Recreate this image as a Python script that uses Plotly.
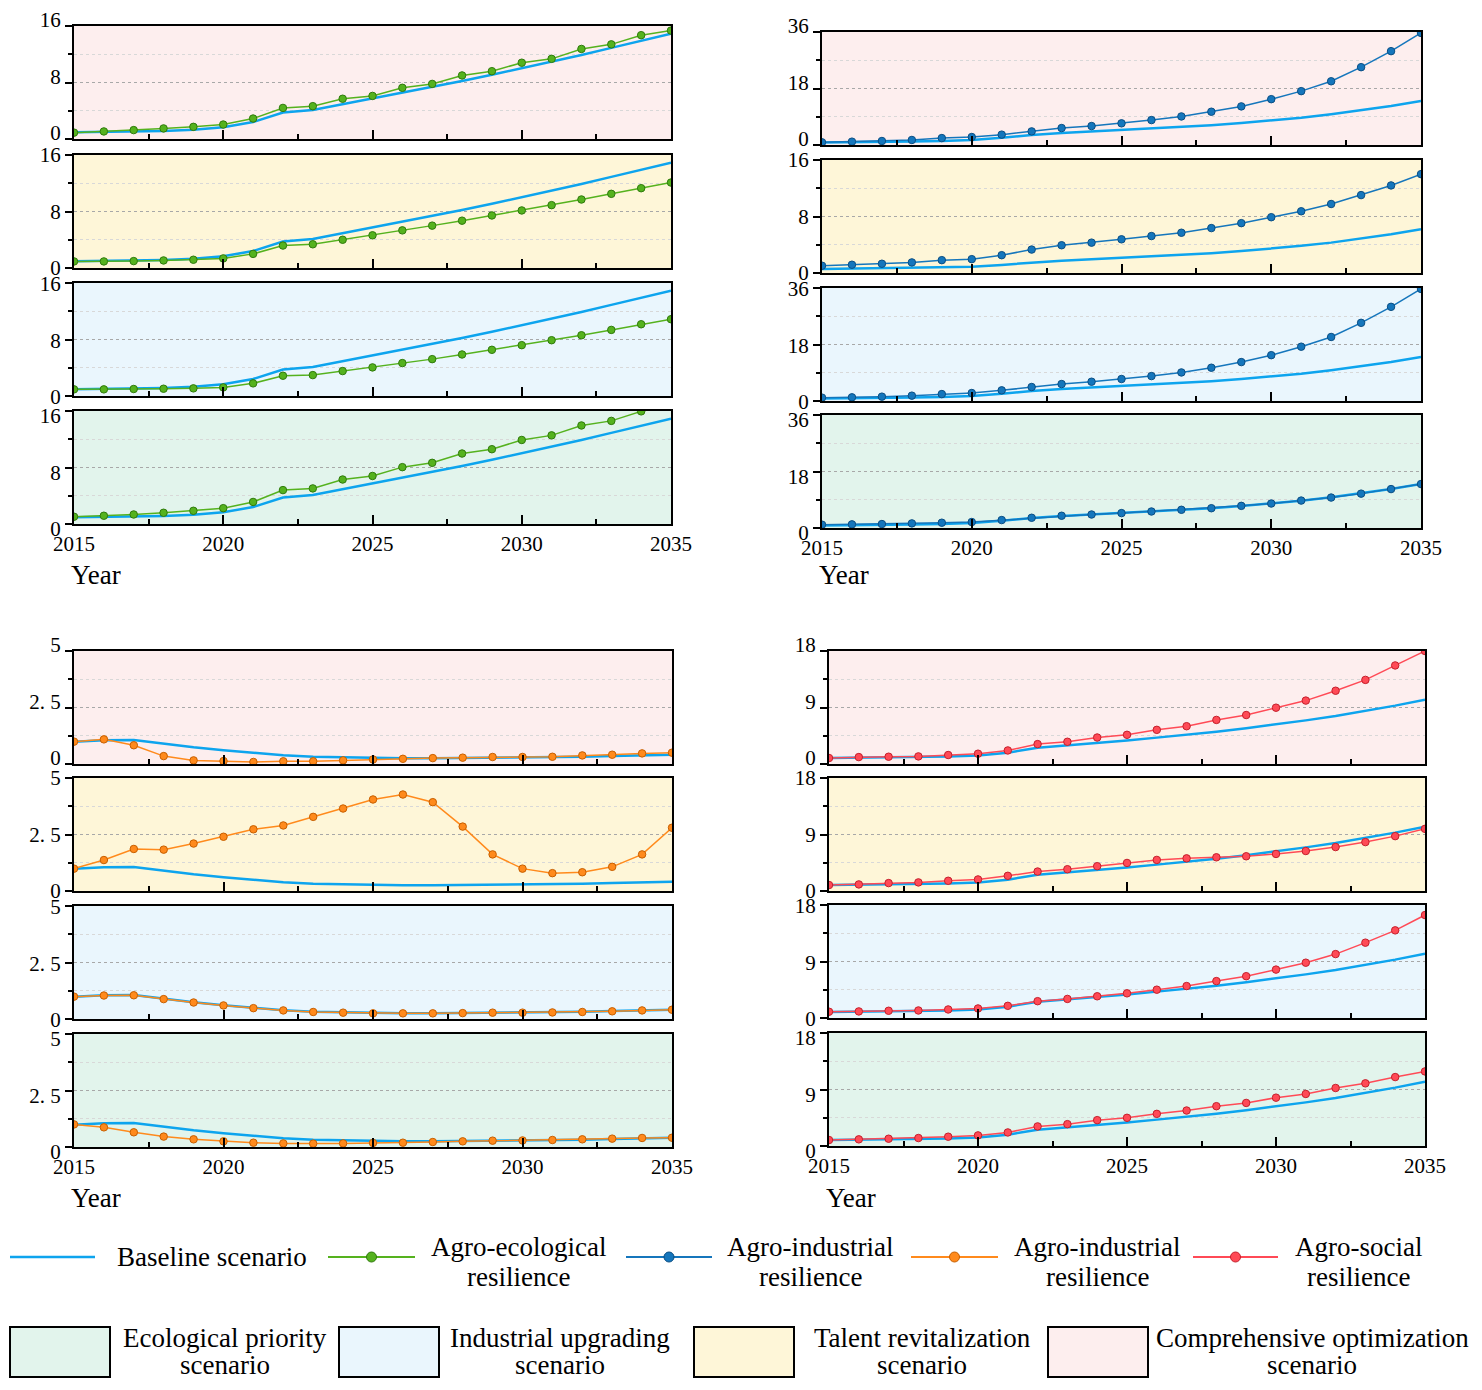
import plotly.graph_objects as go

W, H = 1482, 1390
OFF = 8  # page body margin around the figure
FIG_W, FIG_H = W - 2 * OFF, H - 2 * OFF
SERIF = "Liberation Serif"

years = list(range(2015, 2036))

# ---- agro-ecological resilience (top left) ----
baseline_eco = [0.95, 1.0, 1.05, 1.15, 1.3, 1.65, 2.4, 3.75, 4.1, 4.9, 5.7,
                6.5, 7.35, 8.2, 9.1, 10.0, 10.9, 11.9, 12.9, 13.9, 14.9]
eco_comp = [0.9, 1.07, 1.26, 1.5, 1.72, 2.05, 2.9, 4.4, 4.65, 5.7, 6.1,
            7.25, 7.8, 9.0, 9.6, 10.8, 11.35, 12.75, 13.4, 14.7, 15.35]
eco_talent = [0.93, 0.93, 0.98, 1.07, 1.17, 1.36, 2.0, 3.18, 3.36, 4.0, 4.63,
              5.33, 6.0, 6.7, 7.44, 8.15, 8.9, 9.7, 10.5, 11.3, 12.1]
eco_indus = [0.94, 0.94, 0.99, 1.03, 1.08, 1.22, 1.79, 2.87, 2.96, 3.53, 4.05,
             4.66, 5.22, 5.88, 6.54, 7.2, 7.9, 8.6, 9.36, 10.16, 10.87]
eco_ecol = [1.03, 1.17, 1.35, 1.59, 1.87, 2.24, 3.12, 4.8, 5.04, 6.3, 6.8,
            8.05, 8.66, 9.98, 10.59, 11.9, 12.55, 13.95, 14.6, 15.95, 17.0]

# ---- agro-industrial resilience (top right) ----
baseline_ind = [0.8, 0.85, 0.95, 1.1, 1.3, 1.6, 2.3, 3.2, 3.8, 4.3, 4.8,
                5.2, 5.7, 6.3, 7.0, 7.8, 8.7, 9.8, 11.0, 12.4, 14.0]
baseline_ind_talent = [0.55, 0.6, 0.65, 0.72, 0.8, 0.88, 1.15, 1.5, 1.75, 1.95, 2.15,
                       2.35, 2.55, 2.8, 3.1, 3.45, 3.85, 4.3, 4.85, 5.5, 6.2]
ind_comp = [0.85, 1.06, 1.27, 1.6, 2.2, 2.54, 3.3, 4.34, 5.4, 6.04, 6.9,
            7.94, 9.1, 10.6, 12.3, 14.6, 17.16, 20.3, 24.8, 29.9, 35.7]
ind_talent = [1.03, 1.17, 1.31, 1.5, 1.82, 1.96, 2.52, 3.32, 3.93, 4.3, 4.77,
              5.23, 5.7, 6.36, 7.06, 7.9, 8.74, 9.77, 11.03, 12.4, 14.0]
ind_indus = [1.06, 1.17, 1.38, 1.7, 2.2, 2.54, 3.4, 4.45, 5.4, 6.14, 7.0,
             7.94, 9.1, 10.6, 12.4, 14.6, 17.3, 20.4, 24.9, 30.0, 35.7]
ind_ecol = [1.05, 1.16, 1.26, 1.47, 1.68, 1.9, 2.53, 3.26, 3.9, 4.3, 4.74,
            5.26, 5.8, 6.3, 7.05, 7.8, 8.74, 9.7, 10.95, 12.4, 14.0]

# ---- second agro-industrial series (bottom left) ----
baseline_cul = [0.99, 1.05, 1.06, 0.89, 0.74, 0.61, 0.5, 0.39, 0.32, 0.29, 0.26,
                0.25, 0.25, 0.26, 0.28, 0.28, 0.29, 0.32, 0.35, 0.38, 0.41]
cul_comp = [0.99, 1.09, 0.83, 0.35, 0.16, 0.13, 0.09, 0.12, 0.12, 0.16, 0.2,
            0.23, 0.26, 0.28, 0.31, 0.31, 0.32, 0.38, 0.41, 0.47, 0.5]
cul_talent = [0.99, 1.37, 1.86, 1.83, 2.1, 2.4, 2.73, 2.9, 3.28, 3.65, 4.05,
              4.27, 3.93, 2.85, 1.62, 0.99, 0.79, 0.83, 1.07, 1.62, 2.8]
cul_indus = [0.99, 1.04, 1.05, 0.88, 0.73, 0.6, 0.48, 0.38, 0.31, 0.28, 0.25,
             0.25, 0.25, 0.26, 0.28, 0.28, 0.29, 0.31, 0.34, 0.38, 0.41]
cul_ecol = [1.0, 0.87, 0.65, 0.46, 0.34, 0.25, 0.19, 0.16, 0.15, 0.16, 0.18,
            0.19, 0.22, 0.25, 0.28, 0.29, 0.31, 0.34, 0.37, 0.4, 0.41]

# ---- agro-social resilience (bottom right) ----
baseline_soc = [0.95, 1.0, 1.05, 1.1, 1.2, 1.35, 1.8, 2.6, 2.95, 3.35, 3.75,
                4.2, 4.65, 5.15, 5.7, 6.3, 6.95, 7.65, 8.45, 9.3, 10.25]
soc_comp = [0.95, 1.1, 1.16, 1.21, 1.43, 1.64, 2.16, 3.17, 3.54, 4.22, 4.65,
            5.44, 6.02, 7.02, 7.8, 8.97, 10.1, 11.67, 13.4, 15.7, 18.0]
soc_talent = [0.95, 1.05, 1.26, 1.37, 1.63, 1.84, 2.42, 3.1, 3.47, 3.95, 4.47,
              4.95, 5.2, 5.37, 5.53, 5.9, 6.37, 7.0, 7.79, 8.74, 9.9]
soc_indus = [1.0, 1.05, 1.15, 1.2, 1.36, 1.52, 1.94, 2.68, 3.04, 3.46, 3.93,
             4.51, 5.09, 5.88, 6.66, 7.71, 8.81, 10.18, 12.0, 13.96, 16.4]
soc_ecol = [0.95, 1.06, 1.16, 1.27, 1.48, 1.69, 2.16, 3.12, 3.48, 4.12, 4.49,
            5.12, 5.65, 6.34, 6.86, 7.7, 8.29, 9.24, 9.98, 10.98, 11.88]

x_ticks = [2015, 2020, 2025, 2030, 2035]
x_minor = [2017.5, 2022.5, 2027.5, 2032.5]

# top to bottom inside each block
bg_colors = ["#FDEEEE", "#FEF6D8", "#EAF6FD", "#E2F4EC"]
label_shift = [-6, 0, 1, 5]  # y tick labels drift a little per panel in the original

series_names = ["Baseline scenario", "Agro-ecological<br>resilience", "Agro-industrial<br>resilience",
                "Agro-industrial<br>resilience", "Agro-social<br>resilience"]
scenario_names = ["Ecological priority<br>scenario", "Industrial upgrading<br>scenario",
                  "Talent revitalization<br>scenario", "Comprehensive optimization<br>scenario"]

BASE_COLOR = "#0DA4EE"

blocks = [
    dict(x0=74, x1=671, tops=[26, 155, 283, 411], year_y=575,
         line="#55B21E", edge="#2F7A0C",
         panels=[(baseline_eco, eco_comp, 16), (baseline_eco, eco_talent, 16),
                 (baseline_eco, eco_indus, 16), (baseline_eco, eco_ecol, 16)]),
    dict(x0=822, x1=1421, tops=[32, 160, 288, 415], year_y=575,
         line="#1576BC", edge="#0B4E83",
         panels=[(baseline_ind, ind_comp, 36), (baseline_ind_talent, ind_talent, 16),
                 (baseline_ind, ind_indus, 36), (baseline_ind, ind_ecol, 36)]),
    dict(x0=74, x1=672, tops=[651, 778, 906, 1034], year_y=1198,
         line="#FF8A1C", edge="#C75F00",
         panels=[(baseline_cul, cul_comp, 5), (baseline_cul, cul_talent, 5),
                 (baseline_cul, cul_indus, 5), (baseline_cul, cul_ecol, 5)]),
    dict(x0=829, x1=1425, tops=[651, 778, 905, 1033], year_y=1198,
         line="#FF4A56", edge="#C4202C",
         panels=[(baseline_soc, soc_comp, 18), (baseline_soc, soc_talent, 18),
                 (baseline_soc, soc_indus, 18), (baseline_soc, soc_ecol, 18)]),
]
PANEL_H = 113


def px(x):
    # page pixel -> paper fraction
    return (x - OFF) / FIG_W


def py(y):
    return 1 - (y - OFF) / FIG_H


def fmt(v):
    s = f"{v:g}"
    return s.replace(".", ". ")


def text_lines(label, cx, cy, gap, size=27):
    lines = label.split("<br>")
    first = cy - gap * (len(lines) - 1) / 2
    return [dict(x=px(cx), y=py(first + i * gap), xref="paper", yref="paper", text=t,
                 showarrow=False, xanchor="center", yanchor="middle", borderpad=0,
                 font=dict(family=SERIF, size=size, color="black"))
            for i, t in enumerate(lines)]


fig = go.Figure()
layout = {}
shapes = []
annotations = []
n = 0
for b in blocks:
    for k, (base, ser, ymax) in enumerate(b["panels"]):
        n += 1
        xa = "x" if n == 1 else f"x{n}"
        ya = "y" if n == 1 else f"y{n}"
        top = b["tops"][k]
        layout["xaxis" if n == 1 else f"xaxis{n}"] = dict(
            domain=[px(b["x0"]), px(b["x1"])], anchor=ya, range=[2015, 2035],
            automargin=False,
            showgrid=False, zeroline=False, showline=True, mirror=True,
            linecolor="black", linewidth=2,
            tickmode="array", tickvals=x_ticks, ticks="inside", ticklen=9,
            tickwidth=2, tickcolor="black",
            minor=dict(tickmode="array", tickvals=x_minor, ticks="inside",
                       ticklen=5, tickwidth=2, tickcolor="black"),
            showticklabels=(k == 3),
            tickfont=dict(family=SERIF, size=21, color="black"),
        )
        mid = ymax / 2
        layout["yaxis" if n == 1 else f"yaxis{n}"] = dict(
            domain=[py(top + PANEL_H), py(top)], anchor=xa, range=[0, ymax],
            automargin=False, ticklabeloverflow="allow",
            showline=True, mirror=True, linecolor="black", linewidth=2,
            zeroline=False, tickmode="array", tickvals=[0, mid, ymax],
            ticktext=[fmt(0), fmt(mid), fmt(ymax)], ticklabelshift=label_shift[k],
            ticks="outside", ticklen=7, tickwidth=1.5, tickcolor="black",
            showgrid=True, gridcolor="#A8A8A8", griddash="dot", gridwidth=1,
            minor=dict(tickmode="array", tickvals=[ymax / 4, ymax * 3 / 4],
                       ticks="outside", ticklen=4, tickwidth=1.5, tickcolor="black",
                       showgrid=True, gridcolor="#D8D8D8", griddash="dot", gridwidth=1),
            tickfont=dict(family=SERIF, size=21, color="black"),
        )
        shapes.append(dict(type="rect", xref=f"{xa} domain", yref=f"{ya} domain",
                           x0=0, x1=1, y0=0, y1=1, fillcolor=bg_colors[k],
                           line=dict(width=0), layer="below"))
        fig.add_trace(go.Scatter(x=years, y=base, xaxis=xa, yaxis=ya, mode="lines",
                                 line=dict(color=BASE_COLOR, width=2.5)))
        fig.add_trace(go.Scatter(x=years, y=ser, xaxis=xa, yaxis=ya, mode="lines+markers",
                                 line=dict(color=b["line"], width=1.5),
                                 marker=dict(size=7.5, color=b["line"],
                                             line=dict(color=b["edge"], width=1))))
    annotations.append(dict(x=px(b["x0"] - 5), y=py(b["year_y"]), xref="paper", yref="paper",
                            text="Year", showarrow=False, xanchor="left", yanchor="middle",
                            font=dict(family=SERIF, size=27, color="black")))

# ---- legend, row 1: series ----
leg_y = 1257
leg_items = [
    (10, 95, 212, BASE_COLOR, None),
    (328, 415, 518, "#55B21E", "#2F7A0C"),
    (626, 712, 810, "#1576BC", "#0B4E83"),
    (911, 998, 1097, "#FF8A1C", "#C75F00"),
    (1193, 1278, 1358, "#FF4A56", "#C4202C"),
]
for (x0, x1, tx, col, edge), label in zip(leg_items, series_names):
    shapes.append(dict(type="line", xref="paper", yref="paper", x0=px(x0), x1=px(x1),
                       y0=py(leg_y), y1=py(leg_y),
                       line=dict(color=col, width=2.5 if edge is None else 2)))
    if edge is not None:
        cx = (x0 + x1) / 2
        shapes.append(dict(type="circle", xref="paper", yref="paper",
                           x0=px(cx - 5), x1=px(cx + 5), y0=py(leg_y + 5), y1=py(leg_y - 5),
                           fillcolor=col, line=dict(color=edge, width=1)))
    annotations += text_lines(label, tx, leg_y + (0 if edge is None else 5), 30)

# ---- legend, row 2: scenario backgrounds ----
box_items = [(10, 225, "#E2F4EC"), (339, 560, "#EAF6FD"),
             (694, 922, "#FEF6D8"), (1048, 1312, "#FDEEEE")]
for (bx, tx, col), label in zip(box_items, scenario_names):
    shapes.append(dict(type="rect", xref="paper", yref="paper",
                       x0=px(bx), x1=px(bx + 100), y0=py(1377), y1=py(1327),
                       fillcolor=col, line=dict(color="black", width=2)))
    annotations += text_lines(label, tx, 1351, 27)

fig.update_layout(
    width=FIG_W, height=FIG_H, margin=dict(l=0, r=0, t=0, b=0, autoexpand=False),
    paper_bgcolor="white", plot_bgcolor="rgba(0,0,0,0)",
    showlegend=False, shapes=shapes, annotations=annotations,
    font=dict(family=SERIF, color="black"),
    **layout,
)

fig.write_html("out.html")
